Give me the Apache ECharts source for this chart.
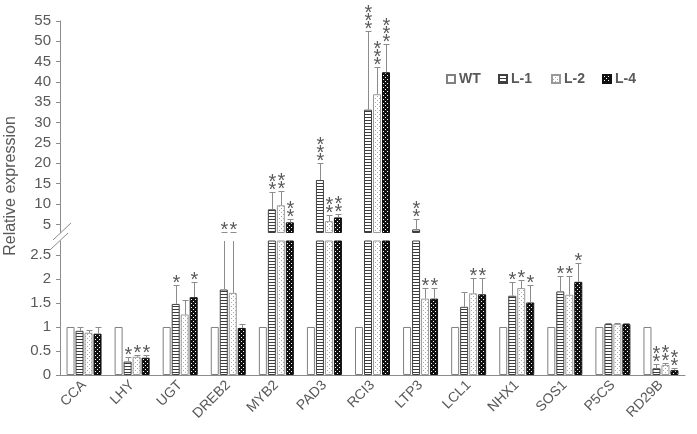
<!DOCTYPE html>
<html>
<head>
<meta charset="utf-8">
<script src="https://cdn.jsdelivr.net/npm/echarts@6/dist/echarts.min.js"></script>
<style>
  html, body { margin: 0; background: #fff; }
  #chart { width: 697px; height: 434px; }
</style>
</head>
<body>
<div id="chart"></div>
<script>
// data
const genes = ['CCA', 'LHY', 'UGT', 'DREB2', 'MYB2', 'PAD3', 'RCI3', 'LTP3', 'LCL1', 'NHX1', 'SOS1', 'P5CS', 'RD29B']
const names = ['WT', 'L-1', 'L-2', 'L-4']

const wt = [1, 1, 1, 1, 1, 1, 1, 1, 1, 1, 1, 1, 1]
const wtErr = [0, 0, 0, 0, 0, 0, 0, 0, 0, 0, 0, 0, 0]
const wtSig = ['', '', '', '', '', '', '', '', '', '', '', '', '']

const l1 = [0.92, 0.28, 1.48, 1.78, 8.7, 15.9, 33.2, 3.77, 1.42, 1.65, 1.74, 1.06, 0.14]
const l1Err = [0.08, 0.1, 0.4, 1.27, 4.3, 4.1, 19.3, 2.5, 0.3, 0.29, 0.32, 0.03, 0.09]
const l1Sig = ['', '*', '*', '*', '**', '***', '***', '**', '', '*', '*', '', '**']

const l2 = [0.88, 0.38, 1.26, 1.71, 9.7, 5.8, 37.0, 1.59, 1.70, 1.81, 1.67, 1.06, 0.21]
const l2Err = [0.05, 0.04, 0.3, 1.34, 3.5, 1.6, 6.6, 0.22, 0.31, 0.16, 0.39, 0.03, 0.05]
const l2Sig = ['', '*', '', '*', '**', '**', '***', '*', '*', '*', '*', '', '**']

const l4 = [0.86, 0.36, 1.62, 0.98, 5.5, 6.7, 42.4, 1.59, 1.68, 1.51, 1.94, 1.06, 0.10]
const l4Err = [0.13, 0.06, 0.32, 0.09, 0.9, 0.8, 7.0, 0.22, 0.33, 0.36, 0.4, 0.03, 0.05]
const l4Sig = ['', '*', '*', '', '**', '**', '***', '*', '*', '*', '*', '', '**']

const lowerTicks = [0, 0.5, 1, 1.5, 2, 2.5]
const upperTicks = [5, 10, 15, 20, 25, 30, 35, 40, 45, 50, 55]

const vals = [wt, l1, l2, l4]
const errs = [wtErr, l1Err, l2Err, l4Err]
const sigs = [wtSig, l1Sig, l2Sig, l4Sig]

const gray = '#595959'
const font = 'Liberation Sans, Arial, sans-serif'
const barW = 8
const offsets = [-13.5, -4.5, 4.5, 13.5]

function pattern(kind) {
  const c = document.createElement('canvas')
  const g = c.getContext('2d')
  if (kind === 1) {
    c.width = 4; c.height = 3
    g.fillStyle = '#fff'; g.fillRect(0, 0, 4, 3)
    g.fillStyle = '#3c3c3c'; g.fillRect(0, 0, 4, 1)
  } else if (kind === 2) {
    c.width = 4; c.height = 4
    g.fillStyle = '#fff'; g.fillRect(0, 0, 4, 4)
    g.fillStyle = '#a8a8a8'; g.fillRect(1, 0, 1, 1); g.fillRect(3, 2, 1, 1)
  } else {
    c.width = 4; c.height = 4
    g.fillStyle = '#111'; g.fillRect(0, 0, 4, 4)
    g.fillStyle = '#fff'; g.fillRect(1, 1, 1, 1); g.fillRect(3, 3, 1, 1)
  }
  return { image: c, repeat: 'repeat' }
}

const styles = [
  { color: '#fff', borderColor: '#808080', borderWidth: 1 },
  { color: pattern(1), borderColor: '#404040', borderWidth: 1 },
  { color: pattern(2), borderColor: '#9a9a9a', borderWidth: 1 },
  { color: pattern(3), borderColor: '#111', borderWidth: 1 },
]

function renderErr(params, api) {
  const cat = api.value(0)
  const k = api.value(3)
  const v = api.value(1)
  const e = api.value(2)
  const cs = params.coordSys
  const x = Math.round(api.coord([cat, 0])[0] + offsets[k]) + 0.5
  const yBar = api.coord([cat, v])[1]
  const yTop = Math.round(api.coord([cat, v + e])[1]) + 0.5
  const lo = cs.y, hi = cs.y + cs.height
  const children = []
  const a = Math.max(lo, Math.min(hi, yBar))
  const b = Math.max(lo, Math.min(hi, yTop))
  if (a - b > 0.5) {
    children.push({ type: 'line', shape: { x1: x, y1: a, x2: x, y2: b }, style: { stroke: '#8c8c8c', lineWidth: 1 } })
  }
  if (yTop >= lo - 0.5 && yTop <= hi) {
    children.push({ type: 'line', shape: { x1: x - 3, y1: yTop, x2: x + 3, y2: yTop }, style: { stroke: '#8c8c8c', lineWidth: 1 } })
    const s = sigs[k][cat]
    if (s) {
      children.push({
        type: 'text',
        x: x, y: yTop + 2,
        style: {
          text: s.split('').join('\n'),
          align: 'center', verticalAlign: 'bottom',
          fontSize: 20, lineHeight: 8, fill: gray, fontFamily: font,
        },
      })
    }
  }
  return { type: 'group', children }
}

function errData() {
  const out = []
  for (let k = 1; k < 4; k++)
    genes.forEach((g, i) => out.push([i, vals[k][i], errs[k][i], k]))
  return out
}

const series = []
names.forEach((n, k) => {
  series.push({
    name: n, type: 'bar', xAxisIndex: 0, yAxisIndex: 0,
    barWidth: barW, barGap: '12.5%', clip: true,
    itemStyle: styles[k], data: vals[k],
  })
})
names.forEach((n, k) => {
  series.push({
    name: n, type: 'bar', xAxisIndex: 1, yAxisIndex: 1,
    barWidth: barW, barGap: '12.5%', clip: true,
    itemStyle: styles[k], data: vals[k].map(v => (v >= 3 ? v : '-')),
  })
})
series.push({ type: 'custom', name: 'errLow', xAxisIndex: 0, yAxisIndex: 0, renderItem: renderErr, encode: { x: 0, y: 1 }, data: errData(), z: 5 })
series.push({ type: 'custom', name: 'errHigh', xAxisIndex: 1, yAxisIndex: 1, renderItem: renderErr, encode: { x: 0, y: 1 }, data: errData(), z: 5 })

const legendLeft = [446, 498, 551, 602]

const chart = echarts.init(document.getElementById('chart'))
chart.setOption({
  animation: false,
  backgroundColor: '#fff',
  textStyle: { fontFamily: font },
  grid: [
    { left: 60, right: 12, top: 241, height: 134 },
    { left: 60, right: 12, top: 21, height: 211.5 },
  ],
  legend: names.map((n, k) => ({
    data: [n], left: legendLeft[k], top: 72, padding: 0,
    itemWidth: 8, itemHeight: 8, itemGap: 0, icon: 'rect', selectedMode: false,
    textStyle: { color: gray, fontSize: 14, fontWeight: 'bold', fontFamily: font, padding: [0, 0, 0, -1] },
  })),
  xAxis: [
    {
      type: 'category', gridIndex: 0, data: genes,
      axisLine: { lineStyle: { color: '#8c8c8c' } },
      axisTick: { show: false },
      axisLabel: { rotate: 45, color: gray, fontSize: 14, margin: 8, interval: 0, fontFamily: font },
    },
    {
      type: 'category', gridIndex: 1, data: genes, show: false,
    },
  ],
  yAxis: [
    {
      type: 'value', gridIndex: 0, min: 0, max: 2.79,
      axisLine: { show: true, lineStyle: { color: '#8c8c8c' } },
      axisTick: { show: true, length: 4, lineStyle: { color: '#8c8c8c' }, customValues: lowerTicks },
      axisLabel: { color: gray, fontSize: 15, margin: 9, fontFamily: font, customValues: lowerTicks },
      splitLine: { show: false },
    },
    {
      type: 'value', gridIndex: 1, min: 3, max: 55,
      axisLine: { show: true, lineStyle: { color: '#8c8c8c' } },
      axisTick: { show: true, length: 4, lineStyle: { color: '#8c8c8c' }, customValues: upperTicks },
      axisLabel: { color: gray, fontSize: 15, margin: 9, fontFamily: font, customValues: upperTicks },
      splitLine: { show: false },
    },
  ],
  graphic: [
    {
      type: 'text', x: 11, y: 186, rotation: Math.PI / 2,
      style: { text: 'Relative expression', fill: gray, fontSize: 16, fontFamily: font, align: 'center', verticalAlign: 'middle' },
    },
    { type: 'line', shape: { x1: 53, y1: 240, x2: 71, y2: 223 }, style: { stroke: '#8c8c8c', lineWidth: 1 } },
    { type: 'line', shape: { x1: 50, y1: 250, x2: 68, y2: 233 }, style: { stroke: '#8c8c8c', lineWidth: 1 } },
  ],
  series,
})
</script>
</body>
</html>
